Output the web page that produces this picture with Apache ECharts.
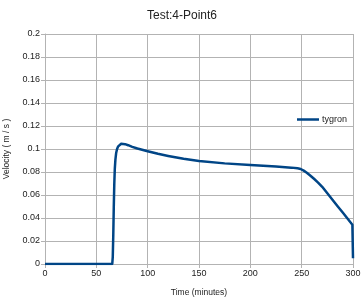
<!DOCTYPE html>
<html>
<head>
<meta charset="utf-8">
<script src="https://cdn.jsdelivr.net/npm/echarts@6/dist/echarts.min.js"></script>
<style>html,body{margin:0;padding:0;background:#fff}#c{width:364px;height:300px}</style>
</head>
<body>
<div id="c"></div>
<script>
var titleText = 'Test:4-Point6';
var seriesName = 'tygron';
var xName = 'Time (minutes)';
var yName = 'Velocity ( m / s )';
var times = [0, 65.5, 66.0, 66.5, 67.0, 67.5, 68.0, 68.6, 69.3, 70.2, 71.3, 72.6, 74.2, 76, 78, 81, 85, 90, 100, 110, 120, 135, 150, 175, 200, 225, 240, 246, 249, 252, 255, 258, 262, 266, 270, 275, 280, 285, 290, 295, 299.4, 300];
var velocity = [0, 0, 0.006, 0.025, 0.05, 0.07, 0.083, 0.091, 0.0965, 0.1, 0.1023, 0.1037, 0.1045, 0.1046, 0.1042, 0.1033, 0.1019, 0.1004, 0.098, 0.0958, 0.094, 0.0915, 0.0895, 0.0875, 0.086, 0.0848, 0.0838, 0.0832, 0.0826, 0.0812, 0.0794, 0.0772, 0.0741, 0.0708, 0.0671, 0.0615, 0.0559, 0.0503, 0.0447, 0.0391, 0.0342, 0.005];
var data = times.map(function(t, i){ return [t, velocity[i]]; });
var font = 'Liberation Sans';
var chart = echarts.init(document.getElementById('c'));
chart.setOption({
  animation: false,
  title: { text: titleText, left: 'center', top: 5, textStyle: { fontFamily: font, fontSize: 12, fontWeight: 'normal', color: '#222' } },
  legend: { data: [seriesName], left: 292, top: 110, icon: 'rect', itemWidth: 22, itemHeight: 2.5, itemGap: 3, textStyle: { fontFamily: font, fontSize: 9, color: '#222', padding: [0,0,0,-2] } },
  grid: { left: 45, right: 11, top: 34, bottom: 36, containLabel: false, outerBoundsMode: 'none' },
  xAxis: {
    type: 'value', min: 0, max: 300, interval: 50,
    name: xName, nameLocation: 'middle', nameGap: 24,
    nameTextStyle: { fontFamily: font, fontSize: 8.5, color: '#222' },
    axisLine: { lineStyle: { color: '#b3b3b3' } },
    axisTick: { show: true, length: 4, lineStyle: { color: '#b3b3b3' } },
    axisLabel: { fontFamily: font, fontSize: 9, color: '#222', margin: 5 },
    splitLine: { show: true, lineStyle: { color: '#b3b3b3' } }
  },
  yAxis: {
    type: 'value', min: 0, max: 0.2, interval: 0.02,
    name: yName, nameLocation: 'middle', nameGap: 30, nameRotate: 90,
    nameTextStyle: { fontFamily: font, fontSize: 8.5, color: '#222' },
    axisLine: { show: true, lineStyle: { color: '#b3b3b3' } },
    axisTick: { show: true, length: 4, lineStyle: { color: '#b3b3b3' } },
    axisLabel: { fontFamily: font, fontSize: 9, color: '#222', margin: 5 },
    splitLine: { show: true, lineStyle: { color: '#b3b3b3' } }
  },
  series: [{
    name: seriesName, type: 'line', data: data, symbol: 'none', smooth: false,
    lineStyle: { color: '#004586', width: 2.5, join: 'round' }, itemStyle: { color: '#004586' }
  }]
});
</script>
</body>
</html>
